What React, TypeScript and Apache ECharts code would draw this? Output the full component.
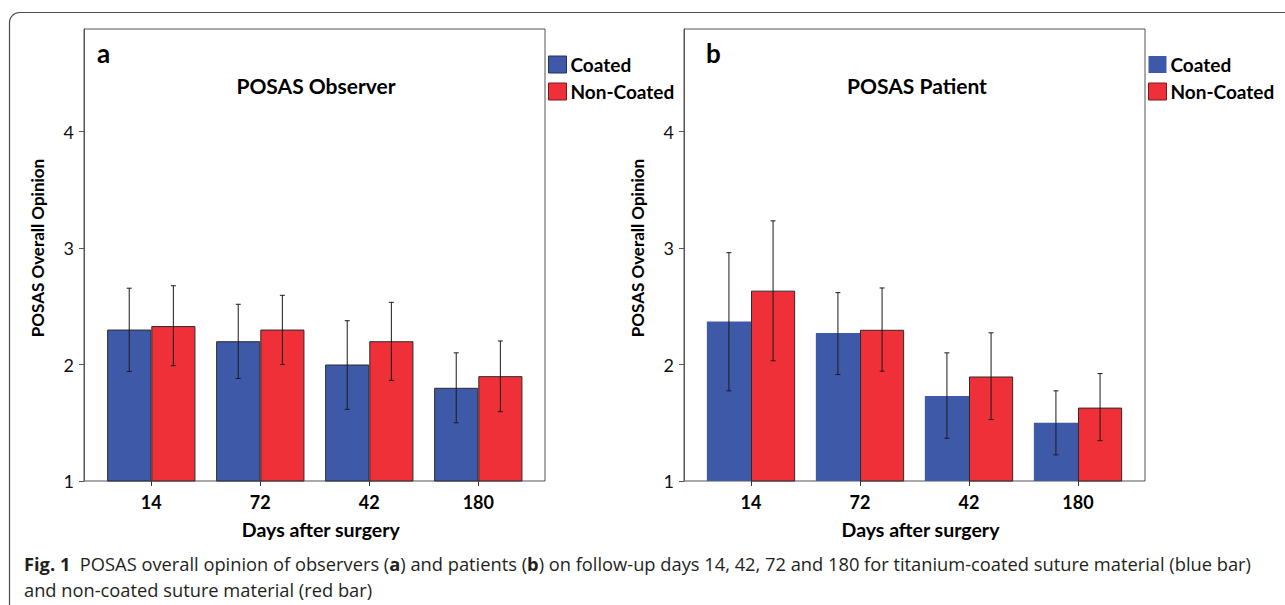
import React, { useEffect, useRef } from 'react';
import * as echarts from 'echarts';

const days = ['14', '72', '42', '180'];
const yTicks = [1, 2, 3, 4];
const Y_MIN = 1;
const Y_MAX = 4.88;

// Panel a: POSAS Observer
const observerCoated = [2.3, 2.2, 2.0, 1.8];
const observerCoatedLow = [1.94, 1.88, 1.615, 1.5];
const observerCoatedHigh = [2.655, 2.517, 2.376, 2.1];
const observerNonCoated = [2.33, 2.3, 2.2, 1.9];
const observerNonCoatedLow = [1.99, 2.0, 1.864, 1.595];
const observerNonCoatedHigh = [2.676, 2.594, 2.534, 2.202];

// Panel b: POSAS Patient
const patientCoated = [2.37, 2.27, 1.73, 1.5];
const patientCoatedLow = [1.774, 1.914, 1.367, 1.224];
const patientCoatedHigh = [2.96, 2.617, 2.1, 1.774];
const patientNonCoated = [2.634, 2.298, 1.897, 1.63];
const patientNonCoatedLow = [2.032, 1.943, 1.527, 1.346];
const patientNonCoatedHigh = [3.233, 2.657, 2.272, 1.922];

const FONT = 'Lato, "Open Sans", sans-serif';
const CAP_FONT = '"Open Sans", Lato, sans-serif';
const BLUE = '#3F59A9';
const RED = '#EF3039';
const GAP = 0.19;

function errorSeries(xi: number, low: number[], high: number[], side: number) {
  return {
    type: 'custom',
    xAxisIndex: xi,
    yAxisIndex: xi,
    z: 5,
    silent: true,
    encode: { x: 0, y: [1, 2] },
    data: days.map((_, i) => [i, low[i], high[i]]),
    renderItem: (params: any, api: any) => {
      const cat = api.value(0);
      const lo = api.coord([cat, api.value(1)]);
      const hi = api.coord([cat, api.value(2)]);
      const band = api.size([1, 0])[0];
      const barW = (band * (1 - GAP)) / 2;
      const x = lo[0] + (side * barW) / 2;
      const cap = 2.5;
      const style = { stroke: '#1a1a1a', lineWidth: 1 };
      return {
        type: 'group',
        children: [
          { type: 'line', shape: { x1: x, y1: hi[1], x2: x, y2: lo[1] }, style },
          { type: 'line', shape: { x1: x - cap, y1: hi[1], x2: x + cap, y2: hi[1] }, style },
          { type: 'line', shape: { x1: x - cap, y1: lo[1], x2: x + cap, y2: lo[1] }, style },
        ],
      };
    },
  };
}

function boxYAxis(gi: number) {
  return {
    type: 'value',
    gridIndex: gi,
    min: Y_MIN,
    max: Y_MAX,
    interval: 1,
    axisLine: { show: true, lineStyle: { color: '#555', width: 1 } },
    axisTick: { show: true, length: 5, customValues: yTicks, lineStyle: { color: '#555' } },
    axisLabel: { customValues: yTicks, fontFamily: FONT, fontSize: 18, color: '#111', margin: 10 },
    splitLine: { show: false },
    name: 'POSAS Overall Opinion',
    nameLocation: 'middle',
    nameGap: 38,
    nameTextStyle: { fontFamily: FONT, fontWeight: 'bold', fontSize: 17, color: '#000', padding: [0, 0, 0, 14] },
  };
}

function barXAxis(gi: number) {
  return {
    type: 'category',
    gridIndex: gi,
    data: days,
    axisLine: { show: false },
    axisTick: { show: true, alignWithLabel: true, length: 5, lineStyle: { color: '#333' } },
    axisLabel: { fontFamily: FONT, fontWeight: 'bold', fontSize: 18, color: '#000', margin: 12 },
    name: 'Days after surgery',
    nameLocation: 'middle',
    nameGap: 38,
    nameTextStyle: { fontFamily: FONT, fontWeight: 'bold', fontSize: 19.5, color: '#000', padding: [0, 0, 0, 12] },
  };
}

function legend(left: number, blueBorder: number) {
  return {
    left,
    top: 55,
    orient: 'vertical',
    itemWidth: 18,
    itemHeight: 17,
    itemGap: 8,
    padding: 0,
    icon: 'rect',
    selectedMode: false,
    textStyle: { fontFamily: FONT, fontWeight: 'bold', fontSize: 19, color: '#000', padding: [0, 0, 0, -1] },
    data: [
      { name: 'Coated', itemStyle: { color: BLUE, borderColor: '#2a2f55', borderWidth: blueBorder } },
      { name: 'Non-Coated', itemStyle: { color: RED, borderColor: '#7a1a1a', borderWidth: 1 } },
    ],
  };
}

export default function App() {
  const ref = useRef<HTMLDivElement>(null);
  useEffect(() => {
    document.body.style.margin = '0';
    const chart = echarts.init(ref.current!, undefined, { renderer: 'svg' });
    const caption1 =
      '{b|Fig. 1}  POSAS overall opinion of observers ({b|a}) and patients ({b|b}) on follow-up days 14, 42, 72 and 180 for titanium-coated suture material (blue bar)';
    const caption2 = 'and non-coated suture material (red bar)';
    const capStyle = { fontFamily: CAP_FONT, fontSize: 18.3, fill: '#231f20' };
    chart.setOption({
      animation: false,
      backgroundColor: '#fff',
      grid: [
        { left: 84, top: 29, width: 461, height: 452, show: true, borderColor: '#555', borderWidth: 1, backgroundColor: 'transparent' },
        { left: 96.8, top: 29, width: 436, height: 452 },
        { left: 684, top: 29, width: 461, height: 452, show: true, borderColor: '#555', borderWidth: 1, backgroundColor: 'transparent' },
        { left: 696.5, top: 29, width: 436, height: 452 },
      ],
      xAxis: [
        { type: 'value', gridIndex: 0, show: false, min: 0, max: 1 },
        barXAxis(1),
        { type: 'value', gridIndex: 2, show: false, min: 0, max: 1 },
        barXAxis(3),
      ],
      yAxis: [
        boxYAxis(0),
        { type: 'value', gridIndex: 1, min: Y_MIN, max: Y_MAX, show: false },
        boxYAxis(2),
        { type: 'value', gridIndex: 3, min: Y_MIN, max: Y_MAX, show: false },
      ],
      legend: [legend(548, 1), legend(1148, 0)],
      series: [
        {
          type: 'bar', name: 'Coated', xAxisIndex: 1, yAxisIndex: 1, data: observerCoated,
          barGap: '0%', barCategoryGap: '19%',
          itemStyle: { color: BLUE, borderColor: '#2b2b2b', borderWidth: 1 },
        },
        {
          type: 'bar', name: 'Non-Coated', xAxisIndex: 1, yAxisIndex: 1, data: observerNonCoated,
          barGap: '0%', barCategoryGap: '19%',
          itemStyle: { color: RED, borderColor: '#2b2b2b', borderWidth: 1 },
        },
        errorSeries(1, observerCoatedLow, observerCoatedHigh, -1),
        errorSeries(1, observerNonCoatedLow, observerNonCoatedHigh, 1),
        {
          type: 'bar', name: 'Coated', xAxisIndex: 3, yAxisIndex: 3, data: patientCoated,
          barGap: '0%', barCategoryGap: '19%',
          itemStyle: { color: BLUE, borderWidth: 0 },
        },
        {
          type: 'bar', name: 'Non-Coated', xAxisIndex: 3, yAxisIndex: 3, data: patientNonCoated,
          barGap: '0%', barCategoryGap: '19%',
          itemStyle: { color: RED, borderColor: '#2b2b2b', borderWidth: 1 },
        },
        errorSeries(3, patientCoatedLow, patientCoatedHigh, -1),
        errorSeries(3, patientNonCoatedLow, patientNonCoatedHigh, 1),
      ],
      graphic: [
        {
          type: 'rect', silent: true, z: -1,
          shape: { x: 9.5, y: 12.5, width: 1400, height: 700, r: [10, 0, 0, 0] },
          style: { fill: 'none', stroke: '#4a4a4a', lineWidth: 1.2 },
        },
        { type: 'text', x: 97, y: 53, style: { text: 'a', fontFamily: FONT, fontWeight: 'bold', fontSize: 26, fill: '#000', verticalAlign: 'middle' } },
        { type: 'text', x: 316, y: 85, style: { text: 'POSAS Observer', fontFamily: FONT, fontWeight: 'bold', fontSize: 21, fill: '#000', align: 'center', verticalAlign: 'middle' } },
        { type: 'text', x: 706, y: 53, style: { text: 'b', fontFamily: FONT, fontWeight: 'bold', fontSize: 26, fill: '#000', verticalAlign: 'middle' } },
        { type: 'text', x: 917, y: 85, style: { text: 'POSAS Patient', fontFamily: FONT, fontWeight: 'bold', fontSize: 21, fill: '#000', align: 'center', verticalAlign: 'middle' } },
        {
          type: 'text', x: 24, y: 563,
          style: { text: caption1, ...capStyle, verticalAlign: 'middle', rich: { b: { fontFamily: CAP_FONT, fontWeight: 'bold', fontSize: 18.3, fill: '#231f20' } } },
        },
        { type: 'text', x: 24, y: 589, style: { text: caption2, ...capStyle, verticalAlign: 'middle' } },
      ],
    });
    return () => chart.dispose();
  }, []);
  return <div ref={ref} style={{ width: 1285, height: 605 }} />;
}
